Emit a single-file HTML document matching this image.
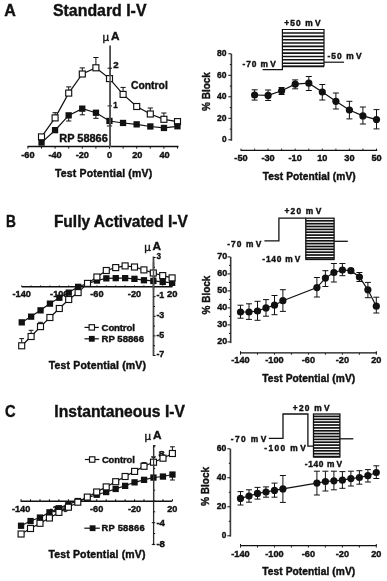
<!DOCTYPE html>
<html><head><meta charset="utf-8"><style>
html,body{margin:0;padding:0;background:#fff;}
svg{display:block;filter:blur(0.3px);}
text{font-family:"Liberation Sans",sans-serif;font-weight:bold;fill:#111;stroke:#111;stroke-width:0.4px;}
</style></head><body>
<svg width="387" height="581" viewBox="0 0 387 581">
<rect width="387" height="581" fill="#fff"/>
<text x="4.2" y="16.0" font-size="16.5" textLength="11.6" lengthAdjust="spacingAndGlyphs">A</text>
<text x="53.0" y="16.0" font-size="16.5" textLength="93.5" lengthAdjust="spacingAndGlyphs">Standard I-V</text>
<text x="6.0" y="227.0" font-size="16.5" textLength="9.9" lengthAdjust="spacingAndGlyphs">B</text>
<text x="53.9" y="227.0" font-size="16.5" textLength="134.0" lengthAdjust="spacingAndGlyphs">Fully Activated I-V</text>
<text x="5.1" y="416.9" font-size="16.5" textLength="10.6" lengthAdjust="spacingAndGlyphs">C</text>
<text x="54.3" y="416.5" font-size="16.5" textLength="130.7" lengthAdjust="spacingAndGlyphs">Instantaneous I-V</text>
<line x1="27.5" y1="146.5" x2="178.5" y2="146.5" stroke="#111" stroke-width="1.4"/>
<line x1="110.1" y1="45.5" x2="110.1" y2="147.0" stroke="#4a4a4a" stroke-width="1.8"/>
<line x1="27.9" y1="146.6" x2="27.9" y2="148.6" stroke="#111" stroke-width="1.0"/>
<line x1="41.5" y1="146.6" x2="41.5" y2="148.6" stroke="#111" stroke-width="1.0"/>
<line x1="55.1" y1="146.6" x2="55.1" y2="148.6" stroke="#111" stroke-width="1.0"/>
<line x1="68.7" y1="146.6" x2="68.7" y2="148.6" stroke="#111" stroke-width="1.0"/>
<line x1="82.3" y1="146.6" x2="82.3" y2="148.6" stroke="#111" stroke-width="1.0"/>
<line x1="95.9" y1="146.6" x2="95.9" y2="148.6" stroke="#111" stroke-width="1.0"/>
<line x1="109.5" y1="146.6" x2="109.5" y2="148.6" stroke="#111" stroke-width="1.0"/>
<line x1="123.1" y1="146.6" x2="123.1" y2="148.6" stroke="#111" stroke-width="1.0"/>
<line x1="136.7" y1="146.6" x2="136.7" y2="148.6" stroke="#111" stroke-width="1.0"/>
<line x1="150.3" y1="146.6" x2="150.3" y2="148.6" stroke="#111" stroke-width="1.0"/>
<line x1="163.9" y1="146.6" x2="163.9" y2="148.6" stroke="#111" stroke-width="1.0"/>
<line x1="177.5" y1="146.6" x2="177.5" y2="148.6" stroke="#111" stroke-width="1.0"/>
<line x1="107.5" y1="68.2" x2="112.0" y2="68.2" stroke="#111" stroke-width="1.0"/>
<line x1="107.5" y1="105.9" x2="112.0" y2="105.9" stroke="#111" stroke-width="1.0"/>
<text x="102.6" y="40.7" font-size="11.5" style="font-weight:normal;stroke-width:0.35px">µ</text>
<text x="110.9" y="39.9" font-size="11.8">A</text>
<text x="113.2" y="67.6" font-size="9.2" textLength="5.4" lengthAdjust="spacingAndGlyphs">2</text>
<text x="113.2" y="108.2" font-size="9.2" textLength="4.4" lengthAdjust="spacingAndGlyphs">1</text>
<text x="27.9" y="157.6" font-size="9.2" text-anchor="middle">-60</text>
<text x="55.1" y="157.6" font-size="9.2" text-anchor="middle">-40</text>
<text x="82.3" y="157.6" font-size="9.2" text-anchor="middle">-20</text>
<text x="109.5" y="157.6" font-size="9.2" text-anchor="middle">0</text>
<text x="137.3" y="157.6" font-size="9.2" text-anchor="middle">20</text>
<text x="164.5" y="157.6" font-size="9.2" text-anchor="middle">40</text>
<text x="54.9" y="176.5" font-size="10.5" textLength="97.3" lengthAdjust="spacing">Test Potential (mV)</text>
<text x="131.0" y="88.6" font-size="11" textLength="36.8" lengthAdjust="spacingAndGlyphs">Control</text>
<text x="59.3" y="141.6" font-size="11" textLength="48.5" lengthAdjust="spacingAndGlyphs">RP 58866</text>
<line x1="55.1" y1="117.9" x2="55.1" y2="112.7" stroke="#111" stroke-width="1.0"/>
<line x1="52.5" y1="112.7" x2="57.7" y2="112.7" stroke="#111" stroke-width="1.0"/>
<line x1="68.7" y1="93.1" x2="68.7" y2="86.9" stroke="#111" stroke-width="1.0"/>
<line x1="66.1" y1="86.9" x2="71.3" y2="86.9" stroke="#111" stroke-width="1.0"/>
<line x1="82.3" y1="74.0" x2="82.3" y2="67.9" stroke="#111" stroke-width="1.0"/>
<line x1="79.7" y1="67.9" x2="84.9" y2="67.9" stroke="#111" stroke-width="1.0"/>
<line x1="95.9" y1="67.8" x2="95.9" y2="57.5" stroke="#111" stroke-width="1.0"/>
<line x1="93.3" y1="57.5" x2="98.5" y2="57.5" stroke="#111" stroke-width="1.0"/>
<line x1="123.1" y1="94.4" x2="123.1" y2="87.4" stroke="#111" stroke-width="1.0"/>
<line x1="120.5" y1="87.4" x2="125.7" y2="87.4" stroke="#111" stroke-width="1.0"/>
<line x1="150.3" y1="114.0" x2="150.3" y2="108.0" stroke="#111" stroke-width="1.0"/>
<line x1="147.7" y1="108.0" x2="152.9" y2="108.0" stroke="#111" stroke-width="1.0"/>
<line x1="163.9" y1="119.3" x2="163.9" y2="113.0" stroke="#111" stroke-width="1.0"/>
<line x1="161.3" y1="113.0" x2="166.5" y2="113.0" stroke="#111" stroke-width="1.0"/>
<line x1="68.7" y1="115.4" x2="68.7" y2="121.0" stroke="#111" stroke-width="1.0"/>
<line x1="66.1" y1="121.0" x2="71.3" y2="121.0" stroke="#111" stroke-width="1.0"/>
<line x1="82.3" y1="108.7" x2="82.3" y2="114.8" stroke="#111" stroke-width="1.0"/>
<line x1="79.7" y1="114.8" x2="84.9" y2="114.8" stroke="#111" stroke-width="1.0"/>
<line x1="95.9" y1="112.8" x2="95.9" y2="118.3" stroke="#111" stroke-width="1.0"/>
<line x1="93.3" y1="118.3" x2="98.5" y2="118.3" stroke="#111" stroke-width="1.0"/>
<line x1="109.5" y1="121.0" x2="109.5" y2="126.0" stroke="#111" stroke-width="1.0"/>
<line x1="106.9" y1="126.0" x2="112.1" y2="126.0" stroke="#111" stroke-width="1.0"/>
<polyline points="41.5,136.9 55.1,117.9 68.7,93.1 82.3,74.0 95.9,67.8 109.5,78.6 123.1,94.4 136.7,106.5 150.3,114.0 163.9,119.3 177.5,121.6" fill="none" stroke="#111" stroke-width="1.2"/>
<polyline points="41.5,142.6 55.1,130.2 68.7,115.4 82.3,108.7 95.9,112.8 109.5,121.0 123.1,123.0 136.7,124.4 150.3,126.5 163.9,127.9 177.5,126.3" fill="none" stroke="#111" stroke-width="1.2"/>
<rect x="38.5" y="133.9" width="6.0" height="6.0" fill="#fff" stroke="#111" stroke-width="1.15"/>
<rect x="52.1" y="114.9" width="6.0" height="6.0" fill="#fff" stroke="#111" stroke-width="1.15"/>
<rect x="65.7" y="90.1" width="6.0" height="6.0" fill="#fff" stroke="#111" stroke-width="1.15"/>
<rect x="79.3" y="71.0" width="6.0" height="6.0" fill="#fff" stroke="#111" stroke-width="1.15"/>
<rect x="92.9" y="64.8" width="6.0" height="6.0" fill="#fff" stroke="#111" stroke-width="1.15"/>
<rect x="106.5" y="75.6" width="6.0" height="6.0" fill="#fff" stroke="#111" stroke-width="1.15"/>
<rect x="120.1" y="91.4" width="6.0" height="6.0" fill="#fff" stroke="#111" stroke-width="1.15"/>
<rect x="133.7" y="103.5" width="6.0" height="6.0" fill="#fff" stroke="#111" stroke-width="1.15"/>
<rect x="147.3" y="111.0" width="6.0" height="6.0" fill="#fff" stroke="#111" stroke-width="1.15"/>
<rect x="160.9" y="116.3" width="6.0" height="6.0" fill="#fff" stroke="#111" stroke-width="1.15"/>
<rect x="174.5" y="118.6" width="6.0" height="6.0" fill="#fff" stroke="#111" stroke-width="1.15"/>
<rect x="38.4" y="139.4" width="6.3" height="6.3" fill="#111"/>
<rect x="51.9" y="127.0" width="6.3" height="6.3" fill="#111"/>
<rect x="65.5" y="112.2" width="6.3" height="6.3" fill="#111"/>
<rect x="79.1" y="105.5" width="6.3" height="6.3" fill="#111"/>
<rect x="92.8" y="109.6" width="6.3" height="6.3" fill="#111"/>
<rect x="106.3" y="117.8" width="6.3" height="6.3" fill="#111"/>
<rect x="119.9" y="119.8" width="6.3" height="6.3" fill="#111"/>
<rect x="133.5" y="121.2" width="6.3" height="6.3" fill="#111"/>
<rect x="147.2" y="123.3" width="6.3" height="6.3" fill="#111"/>
<rect x="160.8" y="124.8" width="6.3" height="6.3" fill="#111"/>
<rect x="174.3" y="123.1" width="6.3" height="6.3" fill="#111"/>
<line x1="110.1" y1="70.0" x2="110.1" y2="147.0" stroke="#555" stroke-width="1.5"/>
<polyline points="262.6,69.6 282.4,69.6 282.4,29.5 324.0,29.5 324.0,66.0 282.4,66.0" fill="none" stroke="#111" stroke-width="1.2"/>
<line x1="324.0" y1="62.2" x2="344.0" y2="62.2" stroke="#111" stroke-width="1.2"/>
<line x1="282.4" y1="33.0" x2="324.0" y2="33.0" stroke="#111" stroke-width="1.6"/>
<line x1="282.4" y1="36.4" x2="324.0" y2="36.4" stroke="#111" stroke-width="1.6"/>
<line x1="282.4" y1="39.7" x2="324.0" y2="39.7" stroke="#111" stroke-width="1.6"/>
<line x1="282.4" y1="43.0" x2="324.0" y2="43.0" stroke="#111" stroke-width="1.6"/>
<line x1="282.4" y1="46.4" x2="324.0" y2="46.4" stroke="#111" stroke-width="1.6"/>
<line x1="282.4" y1="49.8" x2="324.0" y2="49.8" stroke="#111" stroke-width="1.6"/>
<line x1="282.4" y1="53.1" x2="324.0" y2="53.1" stroke="#111" stroke-width="1.6"/>
<line x1="282.4" y1="56.5" x2="324.0" y2="56.5" stroke="#111" stroke-width="1.6"/>
<line x1="282.4" y1="59.8" x2="324.0" y2="59.8" stroke="#111" stroke-width="1.6"/>
<line x1="282.4" y1="63.2" x2="324.0" y2="63.2" stroke="#111" stroke-width="1.6"/>
<line x1="282.4" y1="66.5" x2="324.0" y2="66.5" stroke="#111" stroke-width="1.6"/>
<text x="284.3" y="25.8" font-size="8.4" textLength="36.3" lengthAdjust="spacing">+50 m<tspan dx="1.2">V</tspan></text>
<text x="242.4" y="67.0" font-size="8.4" textLength="33.4" lengthAdjust="spacing">-70 m<tspan dx="1.2">V</tspan></text>
<text x="327.4" y="59.4" font-size="8.4" textLength="34.1" lengthAdjust="spacing">-50 m<tspan dx="1.2">V</tspan></text>
<line x1="231.4" y1="53.8" x2="231.4" y2="140.8" stroke="#3a3a3a" stroke-width="1.6"/>
<line x1="228.3" y1="139.8" x2="231.3" y2="139.8" stroke="#111" stroke-width="1.0"/>
<line x1="229.8" y1="129.1" x2="231.3" y2="129.1" stroke="#111" stroke-width="1.0"/>
<line x1="228.3" y1="118.3" x2="231.3" y2="118.3" stroke="#111" stroke-width="1.0"/>
<line x1="229.8" y1="107.6" x2="231.3" y2="107.6" stroke="#111" stroke-width="1.0"/>
<line x1="228.3" y1="96.8" x2="231.3" y2="96.8" stroke="#111" stroke-width="1.0"/>
<line x1="229.8" y1="86.1" x2="231.3" y2="86.1" stroke="#111" stroke-width="1.0"/>
<line x1="228.3" y1="75.3" x2="231.3" y2="75.3" stroke="#111" stroke-width="1.0"/>
<line x1="229.8" y1="64.6" x2="231.3" y2="64.6" stroke="#111" stroke-width="1.0"/>
<line x1="228.3" y1="53.8" x2="231.3" y2="53.8" stroke="#111" stroke-width="1.0"/>
<text x="222.0" y="142.0" font-size="9.2" textLength="4.6" lengthAdjust="spacingAndGlyphs">0</text>
<text x="217.1" y="120.5" font-size="9.2" textLength="9.5" lengthAdjust="spacingAndGlyphs">20</text>
<text x="217.1" y="99.0" font-size="9.2" textLength="9.5" lengthAdjust="spacingAndGlyphs">40</text>
<text x="217.1" y="77.5" font-size="9.2" textLength="9.5" lengthAdjust="spacingAndGlyphs">60</text>
<text x="217.1" y="56.0" font-size="9.2" textLength="9.5" lengthAdjust="spacingAndGlyphs">80</text>
<text transform="translate(210.4,91.5) rotate(-90)" x="-19.4" y="0" font-size="10.5" textLength="38.8" lengthAdjust="spacingAndGlyphs">% Block</text>
<line x1="240.5" y1="150.3" x2="377.2" y2="150.3" stroke="#111" stroke-width="1.3"/>
<line x1="241.0" y1="148.6" x2="241.0" y2="150.3" stroke="#111" stroke-width="0.9"/>
<line x1="254.6" y1="148.6" x2="254.6" y2="150.3" stroke="#111" stroke-width="0.9"/>
<line x1="268.1" y1="148.6" x2="268.1" y2="150.3" stroke="#111" stroke-width="0.9"/>
<line x1="281.6" y1="148.6" x2="281.6" y2="150.3" stroke="#111" stroke-width="0.9"/>
<line x1="295.2" y1="148.6" x2="295.2" y2="150.3" stroke="#111" stroke-width="0.9"/>
<line x1="308.8" y1="148.6" x2="308.8" y2="150.3" stroke="#111" stroke-width="0.9"/>
<line x1="322.3" y1="148.6" x2="322.3" y2="150.3" stroke="#111" stroke-width="0.9"/>
<line x1="335.9" y1="148.6" x2="335.9" y2="150.3" stroke="#111" stroke-width="0.9"/>
<line x1="349.4" y1="148.6" x2="349.4" y2="150.3" stroke="#111" stroke-width="0.9"/>
<line x1="362.9" y1="148.6" x2="362.9" y2="150.3" stroke="#111" stroke-width="0.9"/>
<line x1="376.5" y1="148.6" x2="376.5" y2="150.3" stroke="#111" stroke-width="0.9"/>
<text x="241.0" y="161.3" font-size="9.2" text-anchor="middle">-50</text>
<text x="268.1" y="161.3" font-size="9.2" text-anchor="middle">-30</text>
<text x="295.2" y="161.3" font-size="9.2" text-anchor="middle">-10</text>
<text x="322.3" y="161.3" font-size="9.2" text-anchor="middle">10</text>
<text x="349.4" y="161.3" font-size="9.2" text-anchor="middle">30</text>
<text x="376.5" y="161.3" font-size="9.2" text-anchor="middle">50</text>
<text x="262.7" y="179.7" font-size="10.2" textLength="93.0" lengthAdjust="spacing">Test Potential (mV)</text>
<line x1="254.6" y1="89.8" x2="254.6" y2="100.1" stroke="#111" stroke-width="1.0"/>
<line x1="251.6" y1="89.8" x2="257.6" y2="89.8" stroke="#111" stroke-width="1.0"/>
<line x1="251.6" y1="100.1" x2="257.6" y2="100.1" stroke="#111" stroke-width="1.0"/>
<line x1="268.1" y1="90.0" x2="268.1" y2="100.5" stroke="#111" stroke-width="1.0"/>
<line x1="265.1" y1="90.0" x2="271.1" y2="90.0" stroke="#111" stroke-width="1.0"/>
<line x1="265.1" y1="100.5" x2="271.1" y2="100.5" stroke="#111" stroke-width="1.0"/>
<line x1="281.6" y1="87.5" x2="281.6" y2="94.5" stroke="#111" stroke-width="1.0"/>
<line x1="278.6" y1="87.5" x2="284.6" y2="87.5" stroke="#111" stroke-width="1.0"/>
<line x1="278.6" y1="94.5" x2="284.6" y2="94.5" stroke="#111" stroke-width="1.0"/>
<line x1="295.2" y1="79.9" x2="295.2" y2="88.8" stroke="#111" stroke-width="1.0"/>
<line x1="292.2" y1="79.9" x2="298.2" y2="79.9" stroke="#111" stroke-width="1.0"/>
<line x1="292.2" y1="88.8" x2="298.2" y2="88.8" stroke="#111" stroke-width="1.0"/>
<line x1="308.8" y1="76.5" x2="308.8" y2="90.5" stroke="#111" stroke-width="1.0"/>
<line x1="305.8" y1="76.5" x2="311.8" y2="76.5" stroke="#111" stroke-width="1.0"/>
<line x1="305.8" y1="90.5" x2="311.8" y2="90.5" stroke="#111" stroke-width="1.0"/>
<line x1="322.3" y1="84.5" x2="322.3" y2="100.0" stroke="#111" stroke-width="1.0"/>
<line x1="319.3" y1="84.5" x2="325.3" y2="84.5" stroke="#111" stroke-width="1.0"/>
<line x1="319.3" y1="100.0" x2="325.3" y2="100.0" stroke="#111" stroke-width="1.0"/>
<line x1="335.9" y1="93.0" x2="335.9" y2="109.0" stroke="#111" stroke-width="1.0"/>
<line x1="332.9" y1="93.0" x2="338.9" y2="93.0" stroke="#111" stroke-width="1.0"/>
<line x1="332.9" y1="109.0" x2="338.9" y2="109.0" stroke="#111" stroke-width="1.0"/>
<line x1="349.4" y1="101.3" x2="349.4" y2="118.9" stroke="#111" stroke-width="1.0"/>
<line x1="346.4" y1="101.3" x2="352.4" y2="101.3" stroke="#111" stroke-width="1.0"/>
<line x1="346.4" y1="118.9" x2="352.4" y2="118.9" stroke="#111" stroke-width="1.0"/>
<line x1="362.9" y1="107.0" x2="362.9" y2="124.0" stroke="#111" stroke-width="1.0"/>
<line x1="359.9" y1="107.0" x2="365.9" y2="107.0" stroke="#111" stroke-width="1.0"/>
<line x1="359.9" y1="124.0" x2="365.9" y2="124.0" stroke="#111" stroke-width="1.0"/>
<line x1="376.5" y1="109.6" x2="376.5" y2="128.9" stroke="#111" stroke-width="1.0"/>
<line x1="373.5" y1="109.6" x2="379.5" y2="109.6" stroke="#111" stroke-width="1.0"/>
<line x1="373.5" y1="128.9" x2="379.5" y2="128.9" stroke="#111" stroke-width="1.0"/>
<polyline points="254.6,95.0 268.1,95.4 281.6,90.8 295.2,84.2 308.8,83.2 322.3,92.0 335.9,101.3 349.4,110.0 362.9,115.9 376.5,119.6" fill="none" stroke="#111" stroke-width="1.2"/>
<circle cx="254.6" cy="95.0" r="3.6" fill="#111"/>
<circle cx="268.1" cy="95.4" r="3.6" fill="#111"/>
<circle cx="281.6" cy="90.8" r="3.6" fill="#111"/>
<circle cx="295.2" cy="84.2" r="3.6" fill="#111"/>
<circle cx="308.8" cy="83.2" r="3.6" fill="#111"/>
<circle cx="322.3" cy="92.0" r="3.6" fill="#111"/>
<circle cx="335.9" cy="101.3" r="3.6" fill="#111"/>
<circle cx="349.4" cy="110.0" r="3.6" fill="#111"/>
<circle cx="362.9" cy="115.9" r="3.6" fill="#111"/>
<circle cx="376.5" cy="119.6" r="3.6" fill="#111"/>
<line x1="21.8" y1="286.8" x2="172.4" y2="286.8" stroke="#111" stroke-width="1.4"/>
<line x1="153.5" y1="256.5" x2="153.5" y2="356.0" stroke="#4a4a4a" stroke-width="1.8"/>
<line x1="21.7" y1="286.9" x2="21.7" y2="285.4" stroke="#111" stroke-width="0.9"/>
<line x1="31.1" y1="286.9" x2="31.1" y2="285.4" stroke="#111" stroke-width="0.9"/>
<line x1="40.5" y1="286.9" x2="40.5" y2="285.4" stroke="#111" stroke-width="0.9"/>
<line x1="49.9" y1="286.9" x2="49.9" y2="285.4" stroke="#111" stroke-width="0.9"/>
<line x1="59.3" y1="286.9" x2="59.3" y2="285.4" stroke="#111" stroke-width="0.9"/>
<line x1="68.7" y1="286.9" x2="68.7" y2="285.4" stroke="#111" stroke-width="0.9"/>
<line x1="78.1" y1="286.9" x2="78.1" y2="285.4" stroke="#111" stroke-width="0.9"/>
<line x1="87.5" y1="286.9" x2="87.5" y2="285.4" stroke="#111" stroke-width="0.9"/>
<line x1="96.9" y1="286.9" x2="96.9" y2="285.4" stroke="#111" stroke-width="0.9"/>
<line x1="106.3" y1="286.9" x2="106.3" y2="285.4" stroke="#111" stroke-width="0.9"/>
<line x1="115.7" y1="286.9" x2="115.7" y2="285.4" stroke="#111" stroke-width="0.9"/>
<line x1="125.1" y1="286.9" x2="125.1" y2="285.4" stroke="#111" stroke-width="0.9"/>
<line x1="134.5" y1="286.9" x2="134.5" y2="285.4" stroke="#111" stroke-width="0.9"/>
<line x1="143.9" y1="286.9" x2="143.9" y2="285.4" stroke="#111" stroke-width="0.9"/>
<line x1="153.3" y1="286.9" x2="153.3" y2="285.4" stroke="#111" stroke-width="0.9"/>
<line x1="162.7" y1="286.9" x2="162.7" y2="285.4" stroke="#111" stroke-width="0.9"/>
<line x1="172.1" y1="286.9" x2="172.1" y2="285.4" stroke="#111" stroke-width="0.9"/>
<line x1="153.4" y1="355.5" x2="155.6" y2="355.5" stroke="#111" stroke-width="1.0"/>
<line x1="153.4" y1="345.7" x2="155.0" y2="345.7" stroke="#111" stroke-width="1.0"/>
<line x1="153.4" y1="335.9" x2="155.6" y2="335.9" stroke="#111" stroke-width="1.0"/>
<line x1="153.4" y1="326.1" x2="155.0" y2="326.1" stroke="#111" stroke-width="1.0"/>
<line x1="153.4" y1="316.3" x2="155.6" y2="316.3" stroke="#111" stroke-width="1.0"/>
<line x1="153.4" y1="306.5" x2="155.0" y2="306.5" stroke="#111" stroke-width="1.0"/>
<line x1="153.4" y1="296.7" x2="155.6" y2="296.7" stroke="#111" stroke-width="1.0"/>
<line x1="153.4" y1="286.9" x2="155.0" y2="286.9" stroke="#111" stroke-width="1.0"/>
<line x1="153.4" y1="277.1" x2="155.6" y2="277.1" stroke="#111" stroke-width="1.0"/>
<line x1="153.4" y1="267.3" x2="155.0" y2="267.3" stroke="#111" stroke-width="1.0"/>
<line x1="153.4" y1="257.5" x2="155.6" y2="257.5" stroke="#111" stroke-width="1.0"/>
<text x="144.2" y="251.2" font-size="11.5" style="font-weight:normal;stroke-width:0.35px">µ</text>
<text x="152.5" y="250.4" font-size="11.8">A</text>
<text x="156.5" y="258.7" font-size="9.6" textLength="4.5" lengthAdjust="spacingAndGlyphs">3</text>
<text x="156.4" y="298.3" font-size="9.6" textLength="7.9" lengthAdjust="spacingAndGlyphs">-1</text>
<text x="156.4" y="317.9" font-size="9.6" textLength="7.9" lengthAdjust="spacingAndGlyphs">-3</text>
<text x="156.4" y="337.5" font-size="9.6" textLength="7.9" lengthAdjust="spacingAndGlyphs">-5</text>
<text x="156.4" y="357.1" font-size="9.6" textLength="7.9" lengthAdjust="spacingAndGlyphs">-7</text>
<text x="21.7" y="297.4" font-size="9.2" text-anchor="middle">-140</text>
<text x="59.3" y="297.4" font-size="9.2" text-anchor="middle">-100</text>
<text x="96.9" y="297.4" font-size="9.2" text-anchor="middle">-60</text>
<text x="134.5" y="297.4" font-size="9.2" text-anchor="middle">-20</text>
<text x="166.9" y="297.3" font-size="9.2" textLength="10.5" lengthAdjust="spacingAndGlyphs">20</text>
<text x="48.8" y="368.7" font-size="10.5" textLength="97.2" lengthAdjust="spacing">Test Potential (mV)</text>
<line x1="84.5" y1="327.4" x2="98.8" y2="327.4" stroke="#111" stroke-width="1.2"/>
<rect x="89.1" y="324.7" width="5.4" height="5.4" fill="#fff" stroke="#111" stroke-width="1.15"/>
<text x="101.6" y="331.0" font-size="9.6" textLength="33.2" lengthAdjust="spacing">Control</text>
<line x1="84.5" y1="338.8" x2="98.8" y2="338.8" stroke="#111" stroke-width="1.2"/>
<rect x="88.9" y="335.9" width="5.8" height="5.8" fill="#111"/>
<text x="101.6" y="341.6" font-size="9.6" textLength="42.4" lengthAdjust="spacing">RP 58866</text>
<line x1="21.7" y1="345.8" x2="21.7" y2="338.6" stroke="#111" stroke-width="1.0"/>
<line x1="19.3" y1="338.6" x2="24.1" y2="338.6" stroke="#111" stroke-width="1.0"/>
<line x1="31.1" y1="336.5" x2="31.1" y2="330.3" stroke="#111" stroke-width="1.0"/>
<line x1="28.7" y1="330.3" x2="33.5" y2="330.3" stroke="#111" stroke-width="1.0"/>
<line x1="40.5" y1="326.6" x2="40.5" y2="322.3" stroke="#111" stroke-width="1.0"/>
<line x1="38.1" y1="322.3" x2="42.9" y2="322.3" stroke="#111" stroke-width="1.0"/>
<polyline points="21.7,345.8 31.1,336.5 40.5,326.6 49.9,317.5 59.3,308.5 68.7,299.5 78.1,292.6 87.5,283.4 96.9,277.0 106.3,270.5 115.7,267.6 125.1,265.9 134.5,267.0 143.9,269.9 153.3,273.0 162.7,275.6 172.1,277.9" fill="none" stroke="#111" stroke-width="1.2"/>
<polyline points="21.7,322.4 31.1,316.6 40.5,310.3 49.9,303.6 59.3,297.7 68.7,292.6 78.1,286.8 87.5,283.6 96.9,280.5 106.3,278.3 115.7,278.1 125.1,278.1 134.5,278.8 143.9,280.2 153.3,280.9 162.7,281.9 172.1,282.8" fill="none" stroke="#111" stroke-width="1.2"/>
<rect x="18.6" y="319.2" width="6.3" height="6.3" fill="#111"/>
<rect x="28.0" y="313.5" width="6.3" height="6.3" fill="#111"/>
<rect x="37.4" y="307.2" width="6.3" height="6.3" fill="#111"/>
<rect x="46.8" y="300.5" width="6.3" height="6.3" fill="#111"/>
<rect x="56.2" y="294.6" width="6.3" height="6.3" fill="#111"/>
<rect x="65.6" y="289.5" width="6.3" height="6.3" fill="#111"/>
<rect x="75.0" y="283.7" width="6.3" height="6.3" fill="#111"/>
<rect x="84.4" y="280.5" width="6.3" height="6.3" fill="#111"/>
<rect x="93.8" y="277.4" width="6.3" height="6.3" fill="#111"/>
<rect x="103.2" y="275.2" width="6.3" height="6.3" fill="#111"/>
<rect x="112.6" y="275.0" width="6.3" height="6.3" fill="#111"/>
<rect x="122.0" y="275.0" width="6.3" height="6.3" fill="#111"/>
<rect x="131.3" y="275.7" width="6.3" height="6.3" fill="#111"/>
<rect x="140.8" y="277.1" width="6.3" height="6.3" fill="#111"/>
<rect x="150.2" y="277.8" width="6.3" height="6.3" fill="#111"/>
<rect x="159.6" y="278.8" width="6.3" height="6.3" fill="#111"/>
<rect x="169.0" y="279.7" width="6.3" height="6.3" fill="#111"/>
<rect x="18.7" y="342.8" width="6.0" height="6.0" fill="#fff" stroke="#111" stroke-width="1.15"/>
<rect x="28.1" y="333.5" width="6.0" height="6.0" fill="#fff" stroke="#111" stroke-width="1.15"/>
<rect x="37.5" y="323.6" width="6.0" height="6.0" fill="#fff" stroke="#111" stroke-width="1.15"/>
<rect x="46.9" y="314.5" width="6.0" height="6.0" fill="#fff" stroke="#111" stroke-width="1.15"/>
<rect x="56.3" y="305.5" width="6.0" height="6.0" fill="#fff" stroke="#111" stroke-width="1.15"/>
<rect x="65.7" y="296.5" width="6.0" height="6.0" fill="#fff" stroke="#111" stroke-width="1.15"/>
<rect x="75.1" y="289.6" width="6.0" height="6.0" fill="#fff" stroke="#111" stroke-width="1.15"/>
<rect x="84.5" y="280.4" width="6.0" height="6.0" fill="#fff" stroke="#111" stroke-width="1.15"/>
<rect x="93.9" y="274.0" width="6.0" height="6.0" fill="#fff" stroke="#111" stroke-width="1.15"/>
<rect x="103.3" y="267.5" width="6.0" height="6.0" fill="#fff" stroke="#111" stroke-width="1.15"/>
<rect x="112.7" y="264.6" width="6.0" height="6.0" fill="#fff" stroke="#111" stroke-width="1.15"/>
<rect x="122.1" y="262.9" width="6.0" height="6.0" fill="#fff" stroke="#111" stroke-width="1.15"/>
<rect x="131.5" y="264.0" width="6.0" height="6.0" fill="#fff" stroke="#111" stroke-width="1.15"/>
<rect x="140.9" y="266.9" width="6.0" height="6.0" fill="#fff" stroke="#111" stroke-width="1.15"/>
<rect x="150.3" y="270.0" width="6.0" height="6.0" fill="#fff" stroke="#111" stroke-width="1.15"/>
<rect x="159.7" y="272.6" width="6.0" height="6.0" fill="#fff" stroke="#111" stroke-width="1.15"/>
<rect x="169.1" y="274.9" width="6.0" height="6.0" fill="#fff" stroke="#111" stroke-width="1.15"/>
<line x1="153.5" y1="262.0" x2="153.5" y2="290.0" stroke="#555" stroke-width="1.5"/>
<polyline points="264.4,240.9 278.9,240.9 278.9,218.2 305.8,218.2" fill="none" stroke="#111" stroke-width="1.3"/>
<rect x="305.8" y="218.2" width="28.3" height="41.3" fill="#fff" stroke="#111" stroke-width="1.3"/>
<line x1="305.8" y1="220.8" x2="334.1" y2="220.8" stroke="#111" stroke-width="1.7"/>
<line x1="305.8" y1="223.7" x2="334.1" y2="223.7" stroke="#111" stroke-width="1.7"/>
<line x1="305.8" y1="226.5" x2="334.1" y2="226.5" stroke="#111" stroke-width="1.7"/>
<line x1="305.8" y1="229.4" x2="334.1" y2="229.4" stroke="#111" stroke-width="1.7"/>
<line x1="305.8" y1="232.2" x2="334.1" y2="232.2" stroke="#111" stroke-width="1.7"/>
<line x1="305.8" y1="235.1" x2="334.1" y2="235.1" stroke="#111" stroke-width="1.7"/>
<line x1="305.8" y1="237.9" x2="334.1" y2="237.9" stroke="#111" stroke-width="1.7"/>
<line x1="305.8" y1="240.8" x2="334.1" y2="240.8" stroke="#111" stroke-width="1.7"/>
<line x1="305.8" y1="243.6" x2="334.1" y2="243.6" stroke="#111" stroke-width="1.7"/>
<line x1="305.8" y1="246.5" x2="334.1" y2="246.5" stroke="#111" stroke-width="1.7"/>
<line x1="305.8" y1="249.3" x2="334.1" y2="249.3" stroke="#111" stroke-width="1.7"/>
<line x1="305.8" y1="252.2" x2="334.1" y2="252.2" stroke="#111" stroke-width="1.7"/>
<line x1="305.8" y1="255.0" x2="334.1" y2="255.0" stroke="#111" stroke-width="1.7"/>
<line x1="305.8" y1="257.9" x2="334.1" y2="257.9" stroke="#111" stroke-width="1.7"/>
<line x1="334.1" y1="241.3" x2="347.8" y2="241.3" stroke="#111" stroke-width="1.3"/>
<text x="284.5" y="214.1" font-size="8.4" textLength="36.8" lengthAdjust="spacing">+20 m<tspan dx="1.2">V</tspan></text>
<text x="227.2" y="247.1" font-size="8.4" textLength="34.1" lengthAdjust="spacing">-70 m<tspan dx="1.2">V</tspan></text>
<text x="262.3" y="262.3" font-size="8.4" textLength="38.1" lengthAdjust="spacing">-140 m<tspan dx="1.2">V</tspan></text>
<line x1="230.7" y1="256.9" x2="230.7" y2="343.1" stroke="#3a3a3a" stroke-width="1.6"/>
<line x1="227.5" y1="341.9" x2="230.5" y2="341.9" stroke="#111" stroke-width="1.0"/>
<line x1="229.0" y1="333.4" x2="230.5" y2="333.4" stroke="#111" stroke-width="1.0"/>
<line x1="227.5" y1="324.9" x2="230.5" y2="324.9" stroke="#111" stroke-width="1.0"/>
<line x1="229.0" y1="316.4" x2="230.5" y2="316.4" stroke="#111" stroke-width="1.0"/>
<line x1="227.5" y1="307.9" x2="230.5" y2="307.9" stroke="#111" stroke-width="1.0"/>
<line x1="229.0" y1="299.4" x2="230.5" y2="299.4" stroke="#111" stroke-width="1.0"/>
<line x1="227.5" y1="290.9" x2="230.5" y2="290.9" stroke="#111" stroke-width="1.0"/>
<line x1="229.0" y1="282.4" x2="230.5" y2="282.4" stroke="#111" stroke-width="1.0"/>
<line x1="227.5" y1="273.9" x2="230.5" y2="273.9" stroke="#111" stroke-width="1.0"/>
<line x1="229.0" y1="265.4" x2="230.5" y2="265.4" stroke="#111" stroke-width="1.0"/>
<line x1="227.5" y1="256.9" x2="230.5" y2="256.9" stroke="#111" stroke-width="1.0"/>
<text x="217.3" y="344.3" font-size="9.2" textLength="10.0" lengthAdjust="spacingAndGlyphs">20</text>
<text x="217.3" y="327.3" font-size="9.2" textLength="10.0" lengthAdjust="spacingAndGlyphs">30</text>
<text x="217.3" y="310.3" font-size="9.2" textLength="10.0" lengthAdjust="spacingAndGlyphs">40</text>
<text x="217.3" y="293.3" font-size="9.2" textLength="10.0" lengthAdjust="spacingAndGlyphs">50</text>
<text x="217.3" y="276.3" font-size="9.2" textLength="10.0" lengthAdjust="spacingAndGlyphs">60</text>
<text x="217.3" y="259.3" font-size="9.2" textLength="10.0" lengthAdjust="spacingAndGlyphs">70</text>
<text transform="translate(210.2,295.1) rotate(-90)" x="-19.4" y="0" font-size="10.5" textLength="38.9" lengthAdjust="spacingAndGlyphs">% Block</text>
<line x1="240.5" y1="352.8" x2="377.0" y2="352.8" stroke="#111" stroke-width="1.3"/>
<line x1="240.5" y1="353.0" x2="240.5" y2="354.8" stroke="#111" stroke-width="0.9"/>
<line x1="257.5" y1="353.0" x2="257.5" y2="354.8" stroke="#111" stroke-width="0.9"/>
<line x1="274.5" y1="353.0" x2="274.5" y2="354.8" stroke="#111" stroke-width="0.9"/>
<line x1="291.4" y1="353.0" x2="291.4" y2="354.8" stroke="#111" stroke-width="0.9"/>
<line x1="308.4" y1="353.0" x2="308.4" y2="354.8" stroke="#111" stroke-width="0.9"/>
<line x1="325.4" y1="353.0" x2="325.4" y2="354.8" stroke="#111" stroke-width="0.9"/>
<line x1="342.4" y1="353.0" x2="342.4" y2="354.8" stroke="#111" stroke-width="0.9"/>
<line x1="359.4" y1="353.0" x2="359.4" y2="354.8" stroke="#111" stroke-width="0.9"/>
<line x1="376.3" y1="353.0" x2="376.3" y2="354.8" stroke="#111" stroke-width="0.9"/>
<line x1="240.5" y1="351.2" x2="240.5" y2="353.0" stroke="#111" stroke-width="1.0"/>
<line x1="376.3" y1="351.2" x2="376.3" y2="353.0" stroke="#111" stroke-width="1.0"/>
<text x="240.5" y="362.9" font-size="9.2" text-anchor="middle">-140</text>
<text x="274.5" y="362.9" font-size="9.2" text-anchor="middle">-100</text>
<text x="308.4" y="362.9" font-size="9.2" text-anchor="middle">-60</text>
<text x="342.4" y="362.9" font-size="9.2" text-anchor="middle">-20</text>
<text x="376.3" y="362.9" font-size="9.2" text-anchor="middle">20</text>
<text x="262.2" y="381.9" font-size="10.2" textLength="93.0" lengthAdjust="spacing">Test Potential (mV)</text>
<line x1="240.5" y1="305.2" x2="240.5" y2="318.2" stroke="#111" stroke-width="1.0"/>
<line x1="237.5" y1="305.2" x2="243.5" y2="305.2" stroke="#111" stroke-width="1.0"/>
<line x1="237.5" y1="318.2" x2="243.5" y2="318.2" stroke="#111" stroke-width="1.0"/>
<line x1="249.0" y1="303.8" x2="249.0" y2="319.4" stroke="#111" stroke-width="1.0"/>
<line x1="246.0" y1="303.8" x2="252.0" y2="303.8" stroke="#111" stroke-width="1.0"/>
<line x1="246.0" y1="319.4" x2="252.0" y2="319.4" stroke="#111" stroke-width="1.0"/>
<line x1="257.5" y1="301.3" x2="257.5" y2="320.3" stroke="#111" stroke-width="1.0"/>
<line x1="254.5" y1="301.3" x2="260.5" y2="301.3" stroke="#111" stroke-width="1.0"/>
<line x1="254.5" y1="320.3" x2="260.5" y2="320.3" stroke="#111" stroke-width="1.0"/>
<line x1="266.0" y1="299.6" x2="266.0" y2="316.2" stroke="#111" stroke-width="1.0"/>
<line x1="263.0" y1="299.6" x2="269.0" y2="299.6" stroke="#111" stroke-width="1.0"/>
<line x1="263.0" y1="316.2" x2="269.0" y2="316.2" stroke="#111" stroke-width="1.0"/>
<line x1="274.5" y1="295.5" x2="274.5" y2="314.7" stroke="#111" stroke-width="1.0"/>
<line x1="271.5" y1="295.5" x2="277.5" y2="295.5" stroke="#111" stroke-width="1.0"/>
<line x1="271.5" y1="314.7" x2="277.5" y2="314.7" stroke="#111" stroke-width="1.0"/>
<line x1="282.9" y1="289.7" x2="282.9" y2="311.4" stroke="#111" stroke-width="1.0"/>
<line x1="279.9" y1="289.7" x2="285.9" y2="289.7" stroke="#111" stroke-width="1.0"/>
<line x1="279.9" y1="311.4" x2="285.9" y2="311.4" stroke="#111" stroke-width="1.0"/>
<line x1="316.9" y1="277.5" x2="316.9" y2="297.0" stroke="#111" stroke-width="1.0"/>
<line x1="313.9" y1="277.5" x2="319.9" y2="277.5" stroke="#111" stroke-width="1.0"/>
<line x1="313.9" y1="297.0" x2="319.9" y2="297.0" stroke="#111" stroke-width="1.0"/>
<line x1="325.4" y1="270.7" x2="325.4" y2="286.5" stroke="#111" stroke-width="1.0"/>
<line x1="322.4" y1="270.7" x2="328.4" y2="270.7" stroke="#111" stroke-width="1.0"/>
<line x1="322.4" y1="286.5" x2="328.4" y2="286.5" stroke="#111" stroke-width="1.0"/>
<line x1="333.9" y1="263.5" x2="333.9" y2="282.0" stroke="#111" stroke-width="1.0"/>
<line x1="330.9" y1="263.5" x2="336.9" y2="263.5" stroke="#111" stroke-width="1.0"/>
<line x1="330.9" y1="282.0" x2="336.9" y2="282.0" stroke="#111" stroke-width="1.0"/>
<line x1="342.4" y1="263.5" x2="342.4" y2="275.7" stroke="#111" stroke-width="1.0"/>
<line x1="339.4" y1="263.5" x2="345.4" y2="263.5" stroke="#111" stroke-width="1.0"/>
<line x1="339.4" y1="275.7" x2="345.4" y2="275.7" stroke="#111" stroke-width="1.0"/>
<line x1="350.9" y1="268.5" x2="350.9" y2="273.0" stroke="#111" stroke-width="1.0"/>
<line x1="347.9" y1="268.5" x2="353.9" y2="268.5" stroke="#111" stroke-width="1.0"/>
<line x1="347.9" y1="273.0" x2="353.9" y2="273.0" stroke="#111" stroke-width="1.0"/>
<line x1="359.4" y1="272.5" x2="359.4" y2="281.5" stroke="#111" stroke-width="1.0"/>
<line x1="356.4" y1="272.5" x2="362.4" y2="272.5" stroke="#111" stroke-width="1.0"/>
<line x1="356.4" y1="281.5" x2="362.4" y2="281.5" stroke="#111" stroke-width="1.0"/>
<line x1="367.9" y1="282.4" x2="367.9" y2="297.7" stroke="#111" stroke-width="1.0"/>
<line x1="364.9" y1="282.4" x2="370.9" y2="282.4" stroke="#111" stroke-width="1.0"/>
<line x1="364.9" y1="297.7" x2="370.9" y2="297.7" stroke="#111" stroke-width="1.0"/>
<line x1="376.3" y1="297.2" x2="376.3" y2="313.0" stroke="#111" stroke-width="1.0"/>
<line x1="373.3" y1="297.2" x2="379.3" y2="297.2" stroke="#111" stroke-width="1.0"/>
<line x1="373.3" y1="313.0" x2="379.3" y2="313.0" stroke="#111" stroke-width="1.0"/>
<polyline points="240.5,312.0 249.0,312.0 257.5,311.0 266.0,307.9 274.5,305.2 282.9,300.7 316.9,287.6 325.4,278.1 333.9,272.5 342.4,270.0 350.9,270.7 359.4,277.0 367.9,289.8 376.3,306.2" fill="none" stroke="#111" stroke-width="1.2"/>
<circle cx="240.5" cy="312.0" r="3.6" fill="#111"/>
<circle cx="249.0" cy="312.0" r="3.6" fill="#111"/>
<circle cx="257.5" cy="311.0" r="3.6" fill="#111"/>
<circle cx="266.0" cy="307.9" r="3.6" fill="#111"/>
<circle cx="274.5" cy="305.2" r="3.6" fill="#111"/>
<circle cx="282.9" cy="300.7" r="3.6" fill="#111"/>
<circle cx="316.9" cy="287.6" r="3.6" fill="#111"/>
<circle cx="325.4" cy="278.1" r="3.6" fill="#111"/>
<circle cx="333.9" cy="272.5" r="3.6" fill="#111"/>
<circle cx="342.4" cy="270.0" r="3.6" fill="#111"/>
<circle cx="350.9" cy="270.7" r="3.6" fill="#111"/>
<circle cx="359.4" cy="277.0" r="3.6" fill="#111"/>
<circle cx="367.9" cy="289.8" r="3.6" fill="#111"/>
<circle cx="376.3" cy="306.2" r="3.6" fill="#111"/>
<line x1="20.5" y1="501.3" x2="172.4" y2="501.3" stroke="#111" stroke-width="1.4"/>
<line x1="153.6" y1="445.2" x2="153.6" y2="545.2" stroke="#2a2a2a" stroke-width="1.3"/>
<line x1="153.5" y1="445.6" x2="155.5" y2="445.6" stroke="#111" stroke-width="1.0"/>
<line x1="21.1" y1="501.0" x2="21.1" y2="499.2" stroke="#111" stroke-width="1.0"/>
<line x1="30.5" y1="501.0" x2="30.5" y2="499.2" stroke="#111" stroke-width="1.0"/>
<line x1="40.0" y1="501.0" x2="40.0" y2="499.2" stroke="#111" stroke-width="1.0"/>
<line x1="49.4" y1="501.0" x2="49.4" y2="499.2" stroke="#111" stroke-width="1.0"/>
<line x1="58.9" y1="501.0" x2="58.9" y2="499.2" stroke="#111" stroke-width="1.0"/>
<line x1="68.4" y1="501.0" x2="68.4" y2="499.2" stroke="#111" stroke-width="1.0"/>
<line x1="77.8" y1="501.0" x2="77.8" y2="499.2" stroke="#111" stroke-width="1.0"/>
<line x1="87.3" y1="501.0" x2="87.3" y2="499.2" stroke="#111" stroke-width="1.0"/>
<line x1="96.7" y1="501.0" x2="96.7" y2="499.2" stroke="#111" stroke-width="1.0"/>
<line x1="106.2" y1="501.0" x2="106.2" y2="499.2" stroke="#111" stroke-width="1.0"/>
<line x1="115.7" y1="501.0" x2="115.7" y2="499.2" stroke="#111" stroke-width="1.0"/>
<line x1="125.1" y1="501.0" x2="125.1" y2="499.2" stroke="#111" stroke-width="1.0"/>
<line x1="134.6" y1="501.0" x2="134.6" y2="499.2" stroke="#111" stroke-width="1.0"/>
<line x1="144.0" y1="501.0" x2="144.0" y2="499.2" stroke="#111" stroke-width="1.0"/>
<line x1="153.5" y1="501.0" x2="153.5" y2="499.2" stroke="#111" stroke-width="1.0"/>
<line x1="163.0" y1="501.0" x2="163.0" y2="499.2" stroke="#111" stroke-width="1.0"/>
<line x1="172.4" y1="501.0" x2="172.4" y2="499.2" stroke="#111" stroke-width="1.0"/>
<line x1="151.8" y1="544.4" x2="155.2" y2="544.4" stroke="#111" stroke-width="1.0"/>
<line x1="153.5" y1="533.5" x2="155.2" y2="533.5" stroke="#111" stroke-width="1.0"/>
<line x1="151.8" y1="522.7" x2="155.2" y2="522.7" stroke="#111" stroke-width="1.0"/>
<line x1="153.5" y1="511.8" x2="155.2" y2="511.8" stroke="#111" stroke-width="1.0"/>
<line x1="153.5" y1="501.0" x2="155.2" y2="501.0" stroke="#111" stroke-width="1.0"/>
<line x1="153.5" y1="490.2" x2="155.2" y2="490.2" stroke="#111" stroke-width="1.0"/>
<line x1="151.8" y1="479.3" x2="155.2" y2="479.3" stroke="#111" stroke-width="1.0"/>
<line x1="153.5" y1="468.5" x2="155.2" y2="468.5" stroke="#111" stroke-width="1.0"/>
<line x1="151.8" y1="457.6" x2="155.2" y2="457.6" stroke="#111" stroke-width="1.0"/>
<line x1="153.5" y1="446.8" x2="155.2" y2="446.8" stroke="#111" stroke-width="1.0"/>
<text x="144.6" y="439.9" font-size="11.5" style="font-weight:normal;stroke-width:0.35px">µ</text>
<text x="152.9" y="439.1" font-size="11.8">A</text>
<text x="158.6" y="457.2" font-size="9.2" textLength="6.2" lengthAdjust="spacingAndGlyphs">8</text>
<text x="156.4" y="525.7" font-size="9.6" textLength="8.6" lengthAdjust="spacingAndGlyphs">-4</text>
<text x="156.4" y="547.4" font-size="9.6" textLength="8.6" lengthAdjust="spacingAndGlyphs">-8</text>
<text x="21.1" y="512.2" font-size="9.2" text-anchor="middle">-140</text>
<text x="58.9" y="512.2" font-size="9.2" text-anchor="middle">-100</text>
<text x="96.7" y="512.2" font-size="9.2" text-anchor="middle">-60</text>
<text x="134.6" y="512.2" font-size="9.2" text-anchor="middle">-20</text>
<text x="167.2" y="512.2" font-size="9.2" textLength="10.2" lengthAdjust="spacingAndGlyphs">20</text>
<text x="48.5" y="557.9" font-size="10.5" textLength="96.9" lengthAdjust="spacing">Test Potential (mV)</text>
<line x1="84.9" y1="459.5" x2="99.4" y2="459.5" stroke="#111" stroke-width="1.2"/>
<rect x="89.5" y="456.8" width="5.4" height="5.4" fill="#fff" stroke="#111" stroke-width="1.15"/>
<text x="101.9" y="462.8" font-size="9.4" textLength="32.9" lengthAdjust="spacing">Control</text>
<line x1="84.3" y1="528.2" x2="99.8" y2="528.2" stroke="#111" stroke-width="1.2"/>
<rect x="89.7" y="525.3" width="5.8" height="5.8" fill="#111"/>
<text x="101.5" y="531.3" font-size="9.4" textLength="43.1" lengthAdjust="spacing">RP 58866</text>
<line x1="172.4" y1="453.5" x2="172.4" y2="446.8" stroke="#111" stroke-width="1.0"/>
<line x1="170.0" y1="446.8" x2="174.8" y2="446.8" stroke="#111" stroke-width="1.0"/>
<line x1="144.0" y1="466.3" x2="144.0" y2="462.6" stroke="#111" stroke-width="1.0"/>
<line x1="141.6" y1="462.6" x2="146.4" y2="462.6" stroke="#111" stroke-width="1.0"/>
<line x1="153.5" y1="462.2" x2="153.5" y2="456.8" stroke="#111" stroke-width="1.0"/>
<line x1="151.1" y1="456.8" x2="155.9" y2="456.8" stroke="#111" stroke-width="1.0"/>
<line x1="172.4" y1="474.5" x2="172.4" y2="480.0" stroke="#111" stroke-width="1.0"/>
<line x1="170.0" y1="480.0" x2="174.8" y2="480.0" stroke="#111" stroke-width="1.0"/>
<polyline points="21.1,534.0 30.5,528.5 40.0,523.3 49.4,518.0 58.9,512.4 68.4,507.2 77.8,502.2 87.3,497.1 96.7,492.0 106.2,486.9 115.7,481.7 125.1,476.5 134.6,471.4 144.0,466.3 153.5,462.2 163.0,458.2 172.4,453.5" fill="none" stroke="#111" stroke-width="1.2"/>
<polyline points="21.1,525.8 30.5,521.0 40.0,517.5 49.4,512.4 58.9,508.2 68.4,504.1 77.8,501.0 87.3,497.8 96.7,494.7 106.2,492.0 115.7,488.9 125.1,485.8 134.6,482.3 144.0,479.8 153.5,477.5 163.0,476.5 172.4,474.5" fill="none" stroke="#111" stroke-width="1.2"/>
<rect x="17.9" y="522.6" width="6.3" height="6.3" fill="#111"/>
<rect x="27.4" y="517.9" width="6.3" height="6.3" fill="#111"/>
<rect x="36.8" y="514.4" width="6.3" height="6.3" fill="#111"/>
<rect x="46.3" y="509.2" width="6.3" height="6.3" fill="#111"/>
<rect x="55.8" y="505.1" width="6.3" height="6.3" fill="#111"/>
<rect x="65.2" y="501.0" width="6.3" height="6.3" fill="#111"/>
<rect x="74.7" y="497.9" width="6.3" height="6.3" fill="#111"/>
<rect x="84.1" y="494.7" width="6.3" height="6.3" fill="#111"/>
<rect x="93.6" y="491.6" width="6.3" height="6.3" fill="#111"/>
<rect x="103.0" y="488.9" width="6.3" height="6.3" fill="#111"/>
<rect x="112.5" y="485.8" width="6.3" height="6.3" fill="#111"/>
<rect x="122.0" y="482.7" width="6.3" height="6.3" fill="#111"/>
<rect x="131.4" y="479.2" width="6.3" height="6.3" fill="#111"/>
<rect x="140.9" y="476.7" width="6.3" height="6.3" fill="#111"/>
<rect x="150.3" y="474.4" width="6.3" height="6.3" fill="#111"/>
<rect x="159.8" y="473.4" width="6.3" height="6.3" fill="#111"/>
<rect x="169.3" y="471.4" width="6.3" height="6.3" fill="#111"/>
<rect x="18.1" y="531.0" width="6.0" height="6.0" fill="#fff" stroke="#111" stroke-width="1.15"/>
<rect x="27.5" y="525.5" width="6.0" height="6.0" fill="#fff" stroke="#111" stroke-width="1.15"/>
<rect x="37.0" y="520.3" width="6.0" height="6.0" fill="#fff" stroke="#111" stroke-width="1.15"/>
<rect x="46.4" y="515.0" width="6.0" height="6.0" fill="#fff" stroke="#111" stroke-width="1.15"/>
<rect x="55.9" y="509.4" width="6.0" height="6.0" fill="#fff" stroke="#111" stroke-width="1.15"/>
<rect x="65.4" y="504.2" width="6.0" height="6.0" fill="#fff" stroke="#111" stroke-width="1.15"/>
<rect x="74.8" y="499.2" width="6.0" height="6.0" fill="#fff" stroke="#111" stroke-width="1.15"/>
<rect x="84.3" y="494.1" width="6.0" height="6.0" fill="#fff" stroke="#111" stroke-width="1.15"/>
<rect x="93.7" y="489.0" width="6.0" height="6.0" fill="#fff" stroke="#111" stroke-width="1.15"/>
<rect x="103.2" y="483.9" width="6.0" height="6.0" fill="#fff" stroke="#111" stroke-width="1.15"/>
<rect x="112.7" y="478.7" width="6.0" height="6.0" fill="#fff" stroke="#111" stroke-width="1.15"/>
<rect x="122.1" y="473.5" width="6.0" height="6.0" fill="#fff" stroke="#111" stroke-width="1.15"/>
<rect x="131.6" y="468.4" width="6.0" height="6.0" fill="#fff" stroke="#111" stroke-width="1.15"/>
<rect x="141.0" y="463.3" width="6.0" height="6.0" fill="#fff" stroke="#111" stroke-width="1.15"/>
<rect x="150.5" y="459.2" width="6.0" height="6.0" fill="#fff" stroke="#111" stroke-width="1.15"/>
<rect x="160.0" y="455.2" width="6.0" height="6.0" fill="#fff" stroke="#111" stroke-width="1.15"/>
<rect x="169.4" y="450.5" width="6.0" height="6.0" fill="#fff" stroke="#111" stroke-width="1.15"/>
<line x1="153.6" y1="450.0" x2="153.6" y2="500.0" stroke="#333" stroke-width="1.2"/>
<polyline points="268.8,438.4 283.0,438.4 283.0,414.0 307.9,414.0 307.9,446.2 313.5,446.2" fill="none" stroke="#111" stroke-width="1.3"/>
<rect x="313.5" y="414.0" width="26.4" height="43.0" fill="#fff" stroke="#111" stroke-width="1.3"/>
<line x1="313.5" y1="416.4" x2="339.9" y2="416.4" stroke="#111" stroke-width="1.7"/>
<line x1="313.5" y1="419.3" x2="339.9" y2="419.3" stroke="#111" stroke-width="1.7"/>
<line x1="313.5" y1="422.1" x2="339.9" y2="422.1" stroke="#111" stroke-width="1.7"/>
<line x1="313.5" y1="425.0" x2="339.9" y2="425.0" stroke="#111" stroke-width="1.7"/>
<line x1="313.5" y1="427.9" x2="339.9" y2="427.9" stroke="#111" stroke-width="1.7"/>
<line x1="313.5" y1="430.8" x2="339.9" y2="430.8" stroke="#111" stroke-width="1.7"/>
<line x1="313.5" y1="433.6" x2="339.9" y2="433.6" stroke="#111" stroke-width="1.7"/>
<line x1="313.5" y1="436.5" x2="339.9" y2="436.5" stroke="#111" stroke-width="1.7"/>
<line x1="313.5" y1="439.4" x2="339.9" y2="439.4" stroke="#111" stroke-width="1.7"/>
<line x1="313.5" y1="442.2" x2="339.9" y2="442.2" stroke="#111" stroke-width="1.7"/>
<line x1="313.5" y1="445.1" x2="339.9" y2="445.1" stroke="#111" stroke-width="1.7"/>
<line x1="313.5" y1="448.0" x2="339.9" y2="448.0" stroke="#111" stroke-width="1.7"/>
<line x1="313.5" y1="450.8" x2="339.9" y2="450.8" stroke="#111" stroke-width="1.7"/>
<line x1="313.5" y1="453.7" x2="339.9" y2="453.7" stroke="#111" stroke-width="1.7"/>
<line x1="313.5" y1="456.6" x2="339.9" y2="456.6" stroke="#111" stroke-width="1.7"/>
<line x1="339.9" y1="438.8" x2="353.3" y2="438.8" stroke="#111" stroke-width="1.3"/>
<text x="292.8" y="410.7" font-size="8.4" textLength="36.8" lengthAdjust="spacing">+20 m<tspan dx="1.2">V</tspan></text>
<text x="230.8" y="441.7" font-size="8.4" textLength="35.5" lengthAdjust="spacing">-70 m<tspan dx="1.2">V</tspan></text>
<text x="264.3" y="451.4" font-size="8.4" textLength="41.5" lengthAdjust="spacing">-100 m<tspan dx="1.2">V</tspan></text>
<text x="304.8" y="466.9" font-size="8.4" textLength="37.2" lengthAdjust="spacing">-140 m<tspan dx="1.2">V</tspan></text>
<line x1="230.4" y1="448.8" x2="230.4" y2="536.6" stroke="#3a3a3a" stroke-width="1.6"/>
<line x1="227.3" y1="535.8" x2="230.3" y2="535.8" stroke="#111" stroke-width="1.0"/>
<line x1="228.8" y1="521.3" x2="230.3" y2="521.3" stroke="#111" stroke-width="1.0"/>
<line x1="227.3" y1="506.8" x2="230.3" y2="506.8" stroke="#111" stroke-width="1.0"/>
<line x1="228.8" y1="492.3" x2="230.3" y2="492.3" stroke="#111" stroke-width="1.0"/>
<line x1="227.3" y1="477.8" x2="230.3" y2="477.8" stroke="#111" stroke-width="1.0"/>
<line x1="228.8" y1="463.3" x2="230.3" y2="463.3" stroke="#111" stroke-width="1.0"/>
<line x1="227.3" y1="448.8" x2="230.3" y2="448.8" stroke="#111" stroke-width="1.0"/>
<text x="221.8" y="538.0" font-size="9.2" textLength="4.6" lengthAdjust="spacingAndGlyphs">0</text>
<text x="216.8" y="509.0" font-size="9.2" textLength="9.6" lengthAdjust="spacingAndGlyphs">20</text>
<text x="216.8" y="480.0" font-size="9.2" textLength="9.6" lengthAdjust="spacingAndGlyphs">40</text>
<text x="216.8" y="451.0" font-size="9.2" textLength="9.6" lengthAdjust="spacingAndGlyphs">60</text>
<text transform="translate(209.0,486.5) rotate(-90)" x="-19.6" y="0" font-size="10.5" textLength="39.2" lengthAdjust="spacingAndGlyphs">% Block</text>
<line x1="240.5" y1="545.6" x2="376.6" y2="545.6" stroke="#111" stroke-width="1.3"/>
<line x1="240.5" y1="545.8" x2="240.5" y2="547.6" stroke="#111" stroke-width="0.9"/>
<line x1="257.5" y1="545.8" x2="257.5" y2="547.6" stroke="#111" stroke-width="0.9"/>
<line x1="274.5" y1="545.8" x2="274.5" y2="547.6" stroke="#111" stroke-width="0.9"/>
<line x1="291.4" y1="545.8" x2="291.4" y2="547.6" stroke="#111" stroke-width="0.9"/>
<line x1="308.4" y1="545.8" x2="308.4" y2="547.6" stroke="#111" stroke-width="0.9"/>
<line x1="325.4" y1="545.8" x2="325.4" y2="547.6" stroke="#111" stroke-width="0.9"/>
<line x1="342.4" y1="545.8" x2="342.4" y2="547.6" stroke="#111" stroke-width="0.9"/>
<line x1="359.4" y1="545.8" x2="359.4" y2="547.6" stroke="#111" stroke-width="0.9"/>
<line x1="376.3" y1="545.8" x2="376.3" y2="547.6" stroke="#111" stroke-width="0.9"/>
<line x1="240.5" y1="544.0" x2="240.5" y2="545.8" stroke="#111" stroke-width="1.0"/>
<line x1="376.3" y1="544.0" x2="376.3" y2="545.8" stroke="#111" stroke-width="1.0"/>
<text x="240.5" y="556.5" font-size="9.2" text-anchor="middle">-140</text>
<text x="274.5" y="556.5" font-size="9.2" text-anchor="middle">-100</text>
<text x="308.4" y="556.5" font-size="9.2" text-anchor="middle">-60</text>
<text x="342.4" y="556.5" font-size="9.2" text-anchor="middle">-20</text>
<text x="376.3" y="556.5" font-size="9.2" text-anchor="middle">20</text>
<text x="262.2" y="575.3" font-size="10.2" textLength="93.0" lengthAdjust="spacing">Test Potential (mV)</text>
<line x1="240.5" y1="491.6" x2="240.5" y2="505.0" stroke="#111" stroke-width="1.0"/>
<line x1="237.5" y1="491.6" x2="243.5" y2="491.6" stroke="#111" stroke-width="1.0"/>
<line x1="237.5" y1="505.0" x2="243.5" y2="505.0" stroke="#111" stroke-width="1.0"/>
<line x1="249.0" y1="489.8" x2="249.0" y2="502.2" stroke="#111" stroke-width="1.0"/>
<line x1="246.0" y1="489.8" x2="252.0" y2="489.8" stroke="#111" stroke-width="1.0"/>
<line x1="246.0" y1="502.2" x2="252.0" y2="502.2" stroke="#111" stroke-width="1.0"/>
<line x1="257.5" y1="487.4" x2="257.5" y2="499.1" stroke="#111" stroke-width="1.0"/>
<line x1="254.5" y1="487.4" x2="260.5" y2="487.4" stroke="#111" stroke-width="1.0"/>
<line x1="254.5" y1="499.1" x2="260.5" y2="499.1" stroke="#111" stroke-width="1.0"/>
<line x1="266.0" y1="486.9" x2="266.0" y2="497.2" stroke="#111" stroke-width="1.0"/>
<line x1="263.0" y1="486.9" x2="269.0" y2="486.9" stroke="#111" stroke-width="1.0"/>
<line x1="263.0" y1="497.2" x2="269.0" y2="497.2" stroke="#111" stroke-width="1.0"/>
<line x1="274.5" y1="483.1" x2="274.5" y2="497.2" stroke="#111" stroke-width="1.0"/>
<line x1="271.5" y1="483.1" x2="277.5" y2="483.1" stroke="#111" stroke-width="1.0"/>
<line x1="271.5" y1="497.2" x2="277.5" y2="497.2" stroke="#111" stroke-width="1.0"/>
<line x1="282.9" y1="475.5" x2="282.9" y2="502.4" stroke="#111" stroke-width="1.0"/>
<line x1="279.9" y1="475.5" x2="285.9" y2="475.5" stroke="#111" stroke-width="1.0"/>
<line x1="279.9" y1="502.4" x2="285.9" y2="502.4" stroke="#111" stroke-width="1.0"/>
<line x1="316.9" y1="471.2" x2="316.9" y2="495.0" stroke="#111" stroke-width="1.0"/>
<line x1="313.9" y1="471.2" x2="319.9" y2="471.2" stroke="#111" stroke-width="1.0"/>
<line x1="313.9" y1="495.0" x2="319.9" y2="495.0" stroke="#111" stroke-width="1.0"/>
<line x1="325.4" y1="471.2" x2="325.4" y2="491.0" stroke="#111" stroke-width="1.0"/>
<line x1="322.4" y1="471.2" x2="328.4" y2="471.2" stroke="#111" stroke-width="1.0"/>
<line x1="322.4" y1="491.0" x2="328.4" y2="491.0" stroke="#111" stroke-width="1.0"/>
<line x1="333.9" y1="471.2" x2="333.9" y2="489.8" stroke="#111" stroke-width="1.0"/>
<line x1="330.9" y1="471.2" x2="336.9" y2="471.2" stroke="#111" stroke-width="1.0"/>
<line x1="330.9" y1="489.8" x2="336.9" y2="489.8" stroke="#111" stroke-width="1.0"/>
<line x1="342.4" y1="471.6" x2="342.4" y2="488.3" stroke="#111" stroke-width="1.0"/>
<line x1="339.4" y1="471.6" x2="345.4" y2="471.6" stroke="#111" stroke-width="1.0"/>
<line x1="339.4" y1="488.3" x2="345.4" y2="488.3" stroke="#111" stroke-width="1.0"/>
<line x1="350.9" y1="471.2" x2="350.9" y2="486.0" stroke="#111" stroke-width="1.0"/>
<line x1="347.9" y1="471.2" x2="353.9" y2="471.2" stroke="#111" stroke-width="1.0"/>
<line x1="347.9" y1="486.0" x2="353.9" y2="486.0" stroke="#111" stroke-width="1.0"/>
<line x1="359.4" y1="470.7" x2="359.4" y2="484.2" stroke="#111" stroke-width="1.0"/>
<line x1="356.4" y1="470.7" x2="362.4" y2="470.7" stroke="#111" stroke-width="1.0"/>
<line x1="356.4" y1="484.2" x2="362.4" y2="484.2" stroke="#111" stroke-width="1.0"/>
<line x1="367.9" y1="469.6" x2="367.9" y2="482.0" stroke="#111" stroke-width="1.0"/>
<line x1="364.9" y1="469.6" x2="370.9" y2="469.6" stroke="#111" stroke-width="1.0"/>
<line x1="364.9" y1="482.0" x2="370.9" y2="482.0" stroke="#111" stroke-width="1.0"/>
<line x1="376.3" y1="465.8" x2="376.3" y2="478.5" stroke="#111" stroke-width="1.0"/>
<line x1="373.3" y1="465.8" x2="379.3" y2="465.8" stroke="#111" stroke-width="1.0"/>
<line x1="373.3" y1="478.5" x2="379.3" y2="478.5" stroke="#111" stroke-width="1.0"/>
<polyline points="240.5,498.4 249.0,496.0 257.5,493.4 266.0,492.0 274.5,490.4 282.9,488.9 316.9,483.1 325.4,481.5 333.9,480.8 342.4,480.2 350.9,478.6 359.4,477.5 367.9,475.7 376.3,472.5" fill="none" stroke="#111" stroke-width="1.2"/>
<circle cx="240.5" cy="498.4" r="3.6" fill="#111"/>
<circle cx="249.0" cy="496.0" r="3.6" fill="#111"/>
<circle cx="257.5" cy="493.4" r="3.6" fill="#111"/>
<circle cx="266.0" cy="492.0" r="3.6" fill="#111"/>
<circle cx="274.5" cy="490.4" r="3.6" fill="#111"/>
<circle cx="282.9" cy="488.9" r="3.6" fill="#111"/>
<circle cx="316.9" cy="483.1" r="3.6" fill="#111"/>
<circle cx="325.4" cy="481.5" r="3.6" fill="#111"/>
<circle cx="333.9" cy="480.8" r="3.6" fill="#111"/>
<circle cx="342.4" cy="480.2" r="3.6" fill="#111"/>
<circle cx="350.9" cy="478.6" r="3.6" fill="#111"/>
<circle cx="359.4" cy="477.5" r="3.6" fill="#111"/>
<circle cx="367.9" cy="475.7" r="3.6" fill="#111"/>
<circle cx="376.3" cy="472.5" r="3.6" fill="#111"/>
</svg>
</body></html>
